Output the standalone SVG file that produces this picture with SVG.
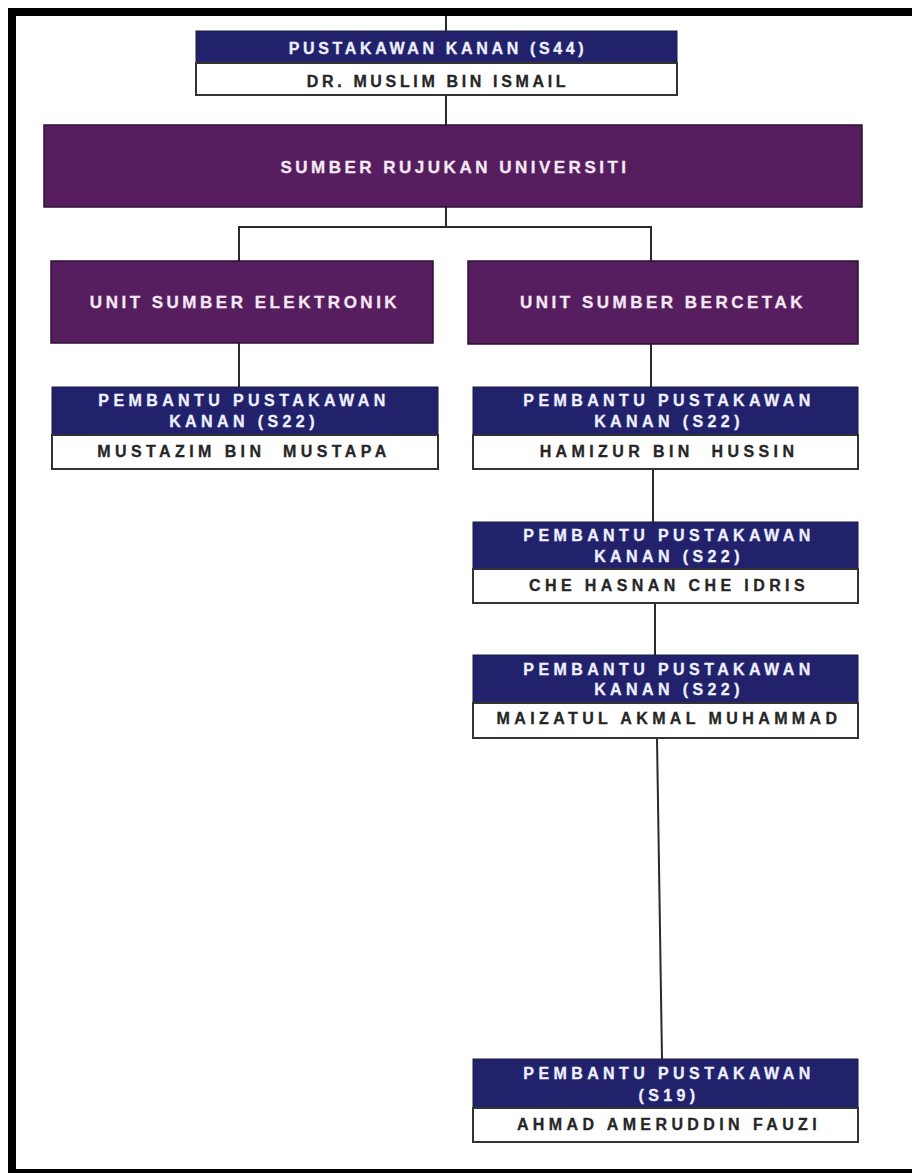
<svg xmlns="http://www.w3.org/2000/svg" width="912" height="1173" viewBox="0 0 912 1173">
<style>
.hdr{fill:#22226c;stroke:#1a1a40;stroke-width:1}
.wb{fill:#ffffff;stroke:#333333;stroke-width:2}
.pur{fill:#561e5e;stroke:#2e0f33;stroke-width:1.5}
.ht{font-family:"Liberation Sans",Arial,sans-serif;font-weight:bold;font-size:16px;letter-spacing:4.4px;fill:#eef0ff;stroke:#eef0ff;stroke-width:0.3;text-anchor:middle}
.nt{font-family:"Liberation Sans",Arial,sans-serif;font-weight:bold;font-size:16px;letter-spacing:4.4px;fill:#262626;stroke:#262626;stroke-width:0.3;text-anchor:middle}
.tt{font-family:"Liberation Sans",Arial,sans-serif;font-weight:bold;font-size:16px;letter-spacing:3.65px;stroke-width:0.3;text-anchor:middle}
.pt{font-family:"Liberation Sans",Arial,sans-serif;font-weight:bold;font-size:17px;letter-spacing:3.5px;fill:#f3e8f3;stroke:#f3e8f3;stroke-width:0.3;text-anchor:middle}
.ln{stroke:#2a2a2a;stroke-width:2;fill:none}
</style>
<rect width="912" height="1173" fill="#ffffff"/>
<g id="frame">
<rect x="8" y="8" width="904" height="8" fill="#000000"/>
<rect x="8" y="8" width="8" height="1165" fill="#000000"/>
<rect x="8" y="1169" width="904" height="4" fill="#000000"/>
</g>
<g id="connectors">
<line class="ln" x1="446" y1="16" x2="446" y2="31"/>
<line class="ln" x1="446" y1="95" x2="446" y2="126"/>
<line class="ln" x1="446" y1="207" x2="446" y2="227"/>
<polyline class="ln" points="239,261 239,227 651,227 651,261"/>
<line class="ln" x1="239" y1="343" x2="239" y2="387"/>
<line class="ln" x1="651" y1="344" x2="651" y2="387"/>
<line class="ln" x1="653" y1="469" x2="653" y2="522"/>
<line class="ln" x1="655" y1="603" x2="655" y2="655"/>
<line class="ln" x1="657" y1="738" x2="662" y2="1059"/>
</g>
<g id="n-pustakawan-kanan">
<rect class="hdr" x="196" y="31" width="481" height="32"/>
<rect class="wb" x="196" y="63" width="481" height="32"/>
<text class="tt" x="438" y="54" fill="#eef0ff" stroke="#eef0ff">PUSTAKAWAN KANAN (S44)</text>
<text class="tt" x="438" y="87" fill="#262626" stroke="#262626">DR. MUSLIM BIN ISMAIL</text>
</g>
<g id="n-sumber-rujukan">
<rect class="pur" x="44" y="125" width="818" height="82"/>
<text class="pt" x="455" y="173">SUMBER RUJUKAN UNIVERSITI</text>
</g>
<g id="n-unit-elektronik">
<rect class="pur" x="51" y="261" width="382" height="82"/>
<text class="pt" x="245" y="308">UNIT SUMBER ELEKTRONIK</text>
</g>
<g id="n-unit-bercetak">
<rect class="pur" x="468" y="261" width="390" height="83"/>
<text class="pt" x="663" y="308">UNIT SUMBER BERCETAK</text>
</g>
<g id="n-mustazim">
<rect class="hdr" x="52" y="387" width="386" height="48"/>
<rect class="wb" x="52" y="435" width="386" height="34"/>
<text class="ht" x="244" y="406">PEMBANTU PUSTAKAWAN</text>
<text class="ht" x="244" y="427">KANAN (S22)</text>
<text class="nt" x="244" y="457" xml:space="preserve">MUSTAZIM BIN  MUSTAPA</text>
</g>
<g id="n-hamizur">
<rect class="hdr" x="473" y="387" width="385" height="48"/>
<rect class="wb" x="473" y="435" width="385" height="34"/>
<text class="ht" x="669" y="406">PEMBANTU PUSTAKAWAN</text>
<text class="ht" x="669" y="427">KANAN (S22)</text>
<text class="nt" x="669" y="457" xml:space="preserve">HAMIZUR BIN  HUSSIN</text>
</g>
<g id="n-che-hasnan">
<rect class="hdr" x="473" y="522" width="385" height="47"/>
<rect class="wb" x="473" y="569" width="385" height="34"/>
<text class="ht" x="669" y="541">PEMBANTU PUSTAKAWAN</text>
<text class="ht" x="669" y="562">KANAN (S22)</text>
<text class="nt" x="669" y="591">CHE HASNAN CHE IDRIS</text>
</g>
<g id="n-maizatul">
<rect class="hdr" x="473" y="655" width="385" height="48"/>
<rect class="wb" x="473" y="703" width="385" height="35"/>
<text class="ht" x="669" y="675">PEMBANTU PUSTAKAWAN</text>
<text class="ht" x="669" y="695">KANAN (S22)</text>
<text class="nt" x="669" y="724">MAIZATUL AKMAL MUHAMMAD</text>
</g>
<g id="n-ahmad">
<rect class="hdr" x="473" y="1059" width="385" height="49"/>
<rect class="wb" x="473" y="1108" width="385" height="34"/>
<text class="ht" x="669" y="1079">PEMBANTU PUSTAKAWAN</text>
<text class="ht" x="669" y="1101">(S19)</text>
<text class="nt" x="669" y="1130">AHMAD AMERUDDIN FAUZI</text>
</g>
</svg>
